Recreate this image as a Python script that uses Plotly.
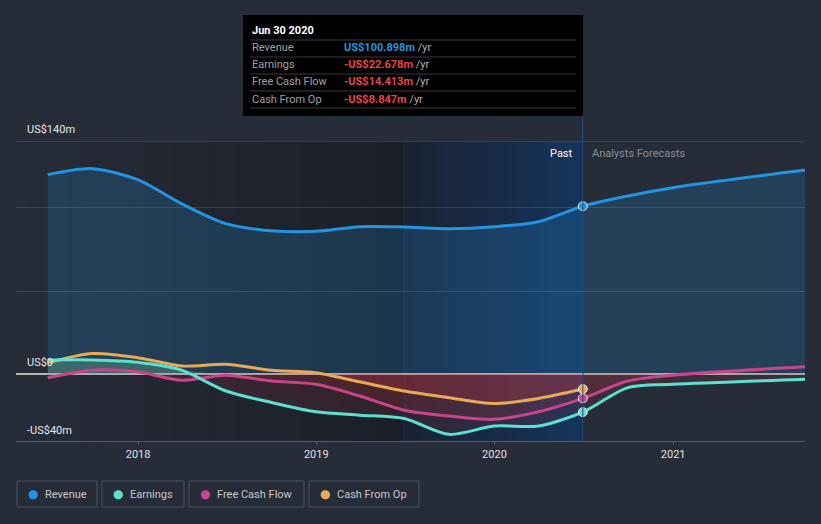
import plotly.graph_objects as go
import pandas as pd

# ---------------- data ----------------
past_dates = ["2017-06-30", "2017-09-30", "2017-12-31", "2018-03-31", "2018-06-30",
              "2018-09-30", "2018-12-31", "2019-03-31", "2019-06-30", "2019-09-30",
              "2019-12-31", "2020-03-31", "2020-06-30"]
fc_dates = ["2020-09-30", "2020-12-31", "2021-12-31"]

revenue_past = [119.8, 123.4, 116.8, 102.4, 90.4, 86.2, 85.8, 88.6, 88.4, 87.4, 88.6, 91.6, 100.898]
revenue_fc = [107.0, 112.0, 126.0]
earnings_past = [8.6, 8.6, 7.2, 2.5, -10.0, -16.8, -22.5, -24.5, -26.5, -36.0, -31.0, -31.0, -22.678]
earnings_fc = [-8.0, -6.0, -2.0]
fcf_past = [-2.0, 2.5, 1.5, -3.5, -0.5, -4.0, -6.0, -13.0, -21.5, -25.0, -27.0, -22.5, -14.413]
fcf_fc = [-4.0, -0.5, 6.0]
cfo_past = [7.0, 12.5, 10.0, 5.0, 6.0, 2.5, 1.0, -4.5, -10.0, -14.0, -17.5, -14.5, -8.847]

series_names = ["Revenue", "Earnings", "Free Cash Flow", "Cash From Op"]
series_colors = ["#2394df", "#5ce0cf", "#c8448b", "#e8aa55"]
tooltip_date = "Jun 30 2020"
tooltip_values = ["US$100.898m", "-US$22.678m", "-US$14.413m", "-US$8.847m"]
y_labels = {140: "US$140m", 0: "US$0", -40: "-US$40m"}

x_range = ["2017-04-26", "2021-09-28"]
band_start = "2019-07-01"
now_date = "2020-06-30"

W, H = 821, 524
ML, MR, MT, MB = 16, 16, 141, 83
PW, PH = W - ML - MR, H - MT - MB
BG = "#262c38"


def px(x):
    return (x - ML) / PW


def py(y):
    return (H - MB - y) / PH


fig = go.Figure()

# ---------------- background gradients ----------------
shapes = []


def lerp_col(c0, c1, t):
    a = [int(c0[i:i + 2], 16) for i in (1, 3, 5)]
    b = [int(c1[i:i + 2], 16) for i in (1, 3, 5)]
    return "#%02x%02x%02x" % tuple(round(a[k] + (b[k] - a[k]) * t) for k in range(3))


def stripes(x0, x1, n, c0, c1):
    t0, t1 = pd.Timestamp(x0), pd.Timestamp(x1)
    for i in range(n):
        a = t0 + (t1 - t0) * (i / n)
        b = t0 + (t1 - t0) * ((i + 1.15) / n) if i < n - 1 else t1
        shapes.append(dict(type="rect", xref="x", yref="paper", x0=a, x1=b, y0=0, y1=1,
                           fillcolor=lerp_col(c0, c1, i / (n - 1)), line_width=0, layer="below"))


stripes(x_range[0], band_start, 30, BG, "#1b1f28")
stripes(band_start, now_date, 24, "#1a2232", "#16345a")

shapes.append(dict(type="line", xref="x", yref="paper", x0=band_start, x1=band_start, y0=0, y1=1,
                   line=dict(color="#1a3050", width=1), layer="below"))
# top gridline (range edge)
shapes.append(dict(type="line", xref="paper", yref="y", x0=0, x1=1, y0=140, y1=140,
                   line=dict(color="#50565f", width=1), layer="below"))
shapes.append(dict(type="line", xref="x", yref="paper", x0=now_date, x1=now_date, y0=0, y1=py(116),
                   line=dict(color="#1f4c85", width=1), layer="above"))

# ---------------- traces ----------------
all_dates = past_dates + fc_dates
rev = revenue_past + revenue_fc
ear = earnings_past + earnings_fc
fcf = fcf_past + fcf_fc
cfo = cfo_past

line_kw = dict(shape="spline", smoothing=0.8)

# revenue area
fig.add_trace(go.Scatter(x=all_dates, y=rev, mode="lines", fill="tozeroy",
                         fillcolor="rgba(35,148,223,0.2)",
                         line=dict(color=series_colors[0], width=3, **line_kw), hoverinfo="skip"))


# fills for positive / negative parts
def fill_part(dates, vals, positive, color):
    v = [max(x, 0) if positive else min(x, 0) for x in vals]
    fig.add_trace(go.Scatter(x=dates, y=v, mode="lines", fill="tozeroy", fillcolor=color,
                             line=dict(width=0, **line_kw), hoverinfo="skip"))


fill_part(past_dates, cfo, False, "rgba(215,55,65,0.22)")
fill_part(all_dates, fcf, False, "rgba(215,55,65,0.14)")
fill_part(all_dates, ear, False, "rgba(215,55,65,0.12)")
fill_part(all_dates, ear, True, "rgba(120,200,150,0.30)")

fig.add_trace(go.Scatter(x=past_dates, y=cfo, mode="lines",
                         line=dict(color=series_colors[3], width=3, **line_kw), hoverinfo="skip"))
fig.add_trace(go.Scatter(x=all_dates, y=fcf, mode="lines",
                         line=dict(color=series_colors[2], width=3, **line_kw), hoverinfo="skip"))
fig.add_trace(go.Scatter(x=all_dates, y=ear, mode="lines",
                         line=dict(color=series_colors[1], width=3, **line_kw), hoverinfo="skip"))

# markers at the "now" point
now_vals = [revenue_past[-1], earnings_past[-1], fcf_past[-1], cfo_past[-1]]
fig.add_trace(go.Scatter(x=[now_date] * 4, y=now_vals, mode="markers",
                         marker=dict(size=9, color=series_colors,
                                     line=dict(color="#e8e8e8", width=1)), hoverinfo="skip"))

# ---------------- tooltip box ----------------
shapes.append(dict(type="rect", xref="paper", yref="paper", x0=px(243), x1=px(583),
                   y0=py(116), y1=py(15), fillcolor="#000000", line_width=0, layer="above"))
for ly in [40, 57, 74, 91, 108]:
    shapes.append(dict(type="line", xref="paper", yref="paper", x0=px(250), x1=px(576),
                       y0=py(ly), y1=py(ly), line=dict(color="#3a3a3a", width=1), layer="above"))

ann = []
ann.append(dict(xref="paper", yref="paper", x=px(250), y=py(31), xanchor="left", yanchor="middle",
                text="<b>%s</b>" % tooltip_date, showarrow=False,
                font=dict(color="#ffffff", size=11, family="Roboto")))
val_colors = [series_colors[0], "#e84545", "#e84545", "#e84545"]
for i, (name, val) in enumerate(zip(series_names, tooltip_values)):
    yy = py(48 + 17 * i)
    ann.append(dict(xref="paper", yref="paper", x=px(250), y=yy, xanchor="left", yanchor="middle",
                    text=name, showarrow=False, font=dict(color="#a0a0a0", size=11, family="Roboto")))
    ann.append(dict(xref="paper", yref="paper", x=px(342), y=yy, xanchor="left", yanchor="middle",
                    text="<span style='color:%s'><b>%s</b></span> /yr" % (val_colors[i], val),
                    showarrow=False, font=dict(color="#b0b0b0", size=11, family="Roboto")))

# Past / forecast labels
ann.append(dict(xref="x", yref="paper", x=now_date, y=py(153), xanchor="right", yanchor="middle",
                xshift=-8, text="Past", showarrow=False,
                font=dict(color="#ffffff", size=11, family="Roboto")))
ann.append(dict(xref="x", yref="paper", x=now_date, y=py(153), xanchor="left", yanchor="middle",
                xshift=7, text="Analysts Forecasts", showarrow=False,
                font=dict(color="#8a9099", size=11, family="Roboto")))

# y labels
for v, t in y_labels.items():
    ann.append(dict(xref="paper", yref="y", x=px(25), y=v, xanchor="left", yanchor="bottom",
                    yshift=3 if v != -40 else 2, text=t, showarrow=False,
                    font=dict(color="#e6e6e6", size=11, family="Roboto")))

# legend boxes
leg_boxes = [(17, 97), (102, 184), (189, 304), (309, 419)]
for (x0, x1), name, col in zip(leg_boxes, series_names, series_colors):
    shapes.append(dict(type="rect", xref="paper", yref="paper", x0=px(x0), x1=px(x1),
                       y0=py(507), y1=py(481), line=dict(color="#4b5260", width=1),
                       fillcolor="rgba(0,0,0,0)", layer="above"))
    ann.append(dict(xref="paper", yref="paper", x=px(x0 + 9), y=py(494), xanchor="left",
                    yanchor="middle", text="●", showarrow=False,
                    font=dict(color=col, size=12, family="DejaVu Sans")))
    ann.append(dict(xref="paper", yref="paper", x=px(x0 + 26), y=py(494), xanchor="left",
                    yanchor="middle", text=name, showarrow=False,
                    font=dict(color="#c8c8c8", size=11, family="Roboto")))

fig.update_layout(
    width=W, height=H,
    margin=dict(l=ML, r=MR, t=MT, b=MB),
    paper_bgcolor=BG, plot_bgcolor=BG,
    showlegend=False,
    shapes=shapes, annotations=ann,
    xaxis=dict(type="date", range=x_range, showgrid=False, zeroline=False,
               showline=True, linecolor="#555c69", linewidth=1,
               ticks="outside", ticklen=3, tickcolor="#555c69",
               tickvals=["2018-01-01", "2019-01-01", "2020-01-01", "2021-01-01"],
               ticktext=["2018", "2019", "2020", "2021"],
               tickfont=dict(color="#e0e0e0", size=11, family="Roboto")),
    yaxis=dict(range=[-40, 140], tickvals=[50, 100, 140], showticklabels=False,
               showgrid=True, gridcolor="rgba(255,255,255,0.13)", gridwidth=1,
               zeroline=True, zerolinecolor="#b5b5b5", zerolinewidth=1.5, fixedrange=True),
)

fig.write_html("out.html", config={"displayModeBar": False},
               post_script="document.body.style.margin='0';document.body.style.background='%s';" % BG)
